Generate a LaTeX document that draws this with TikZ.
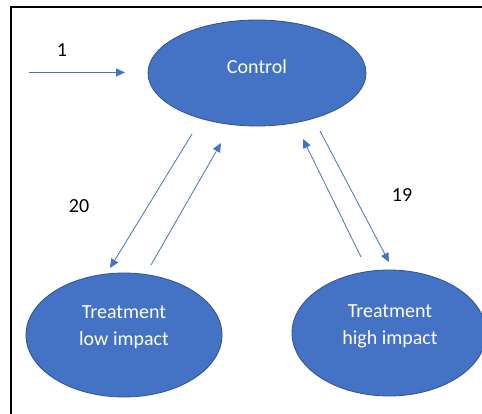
\documentclass[tikz,border=0pt]{standalone}
\usepackage{fontspec}
\setmainfont{Carlito}
\usetikzlibrary{shapes.geometric,arrows.meta}
\definecolor{nodeblue}{HTML}{4472C4}
\definecolor{edgeblue}{HTML}{2F528F}
\tikzset{
  state/.style={ellipse, draw=edgeblue, line width=0.8pt, fill=nodeblue, inner sep=0pt},
  inlabel/.style={text=white, font=\fontsize{20}{27}\selectfont, align=center, inner sep=0pt},
  numlabel/.style={text=black, font=\fontsize{20}{24}\selectfont, inner sep=0pt},
  flow/.style={draw=nodeblue, line width=0.8pt, -{Triangle[length=9pt,width=8pt]}},
}
\begin{document}
\begin{tikzpicture}[x=1pt,y=-1pt]
\path[use as bounding box] (0,0) rectangle (482,414);
\clip (0,0) rectangle (482,414);
% frame
\coordinate (fb) at (11,414);
\coordinate (ftl) at (11,7);
\coordinate (fr) at (482,7);
\draw[line width=1.6pt] (fb) -- (ftl) -- (fr);
% states
\node[state, minimum width=218pt, minimum height=106pt] (ctrl) at (257,73) {};
\node[state, minimum width=196pt, minimum height=124pt] (low) at (124,335) {};
\node[state, minimum width=194pt, minimum height=126pt] (high) at (389,333) {};
\node[inlabel] (ctrlt) at (257,67) {Control};
\node[inlabel] (lowt) at (124,327) {Treatment\\low impact};
\node[inlabel] (hight) at (390,326) {Treatment\\high impact};
% numbers
\node[numlabel] (n1) at (62,50) {1};
\node[numlabel] (n20) at (79,206) {20};
\node[numlabel] (n19) at (402,195) {19};
% arrow ends
\coordinate (a0s) at (29,72.5);
\coordinate (a0e) at (125,72.5);
\coordinate (a1s) at (192,134);
\coordinate (a1e) at (110,268);
\coordinate (a2s) at (151,265);
\coordinate (a2e) at (221,143);
\coordinate (a3s) at (361,257);
\coordinate (a3e) at (303,139);
\coordinate (a4s) at (320,131);
\coordinate (a4e) at (389,262);
\draw[flow] (a0s) -- (a0e);
\draw[flow] (a1s) -- (a1e);
\draw[flow] (a2s) -- (a2e);
\draw[flow] (a3s) -- (a3e);
\draw[flow] (a4s) -- (a4e);
\end{tikzpicture}
\end{document}
